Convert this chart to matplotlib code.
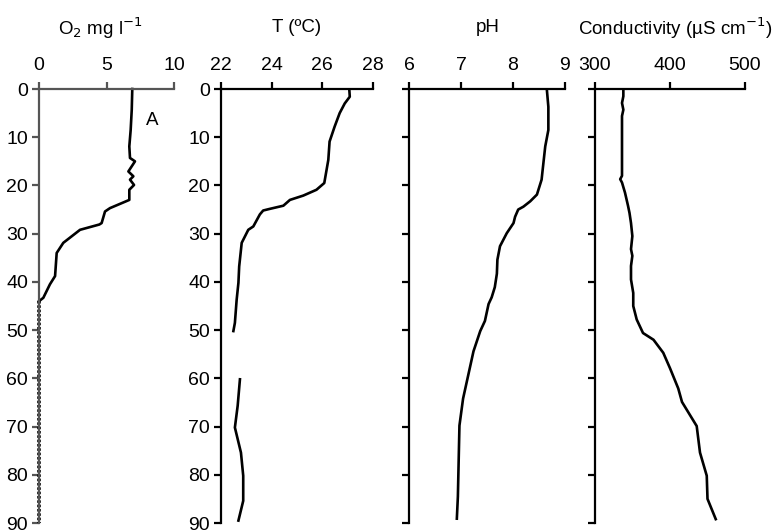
import matplotlib
matplotlib.use("Agg")
import matplotlib.pyplot as plt
import numpy as np

plt.rcParams['font.family'] = ['Liberation Sans', 'DejaVu Sans']

# ---- data (depth in m) ----
o2_depth = [0, 4.3, 8.5, 11.9, 14.3, 15.0, 17.1, 18.1, 18.8, 19.9, 20.9, 23.0,
            24.7, 25.4, 27.8, 28.1, 29.2, 31.9, 34.0, 38.8, 40.5, 43.3, 44.0]
o2_val = [6.91, 6.87, 6.79, 6.69, 6.74, 7.11, 6.62, 6.99, 6.74, 7.04, 6.69, 6.69,
          5.26, 4.89, 4.64, 4.47, 3.04, 1.80, 1.31, 1.19, 0.81, 0.32, 0.0]
o2_anox_depth = [44, 90]
o2_anox_val = [0, 0]

t_depth1 = [0, 1.6, 3.0, 5.0, 7.8, 10.9, 14.7, 16.8, 19.5, 20.9, 22.1, 23.0, 24.2,
            24.9, 25.2, 26.0, 28.5, 29.2, 31.9, 36.8, 40.2, 43.7, 48.5, 50.2]
t_val1 = [27.08, 27.1, 26.9, 26.7, 26.5, 26.3, 26.25, 26.18, 26.09, 25.78, 25.26, 24.73,
          24.47, 23.9, 23.67, 23.54, 23.28, 23.08, 22.82, 22.72, 22.69, 22.62, 22.55, 22.49]
t_depth2 = [60.2, 65.7, 70.2, 75.4, 80.2, 85.4, 89.5]
t_val2 = [22.75, 22.66, 22.55, 22.79, 22.88, 22.88, 22.69]

ph_depth = [0, 3.7, 8.5, 11.9, 16.8, 18.8, 21.9, 23.3, 24.4, 25.0, 26.5, 27.8, 29.9,
            32.6, 35.4, 38.3, 41.1, 43.2, 44.6, 48.1, 50.2, 54.4, 59.3, 64.2, 69.8,
            74.7, 79.6, 84.5, 89.1]
ph_val = [8.65, 8.68, 8.68, 8.62, 8.57, 8.55, 8.46, 8.33, 8.2, 8.10, 8.04, 8.01, 7.88,
          7.75, 7.70, 7.69, 7.65, 7.59, 7.53, 7.46, 7.37, 7.24, 7.14, 7.04, 6.97,
          6.96, 6.95, 6.94, 6.92]

cond_depth = [0, 1.5, 2.9, 4.3, 5.6, 18.0, 18.7, 19.4, 21.5, 24.2, 25.7, 27.8, 30.5,
              33.2, 34.6, 36.7, 39.5, 42.3, 45.0, 47.8, 50.6, 52.0, 54.7, 57.9, 62.1,
              64.9, 69.9, 75.4, 80.2, 85.0, 89.2]
cond_val = [337.8, 337.8, 336, 337.8, 336, 336, 333.6, 336, 340, 344, 346, 348, 349.8,
            348, 349.8, 348, 348, 351, 351, 355.6, 364, 378, 391, 400, 411,
            416, 435.6, 440, 449, 450, 461]

titles = ["O$_2$ mg l$^{-1}$", "T (ºC)", "pH", "Conductivity (µS cm$^{-1}$)"]
xlims = [(0, 10), (22, 28), (6, 9), (300, 500)]
xticks = [[0, 5, 10], [22, 24, 26, 28], [6, 7, 8, 9], [300, 400, 500]]
depth_ticks = list(range(0, 91, 10))

W, H = 775, 532
fig = plt.figure(figsize=(W / 100, H / 100), dpi=100)

y0_px, y90_px = 89, 523
panels_px = [(39, 174), (221, 372.5), (409, 565), (595, 745)]
title_x = [100, 297, 488, 675]

axes = []
for i, (l, r) in enumerate(panels_px):
    ax = fig.add_axes([l / W, 1 - y90_px / H, (r - l) / W, (y90_px - y0_px) / H])
    axes.append(ax)
    col = '#555555' if i == 0 else 'black'
    ax.set_xlim(*xlims[i])
    ax.set_ylim(90, 0)
    ax.spines['right'].set_visible(False)
    ax.spines['bottom'].set_visible(False)
    for s in ('top', 'left'):
        ax.spines[s].set_linewidth(1.6)
        ax.spines[s].set_color(col)
    ax.xaxis.tick_top()
    ax.set_xticks(xticks[i])
    ax.set_yticks(depth_ticks)
    ax.tick_params(axis='x', direction='out', length=5, width=1.6, color=col,
                   labelsize=14, pad=6)
    ax.tick_params(axis='y', direction='out', length=5, width=1.6, color=col,
                   labelsize=14, pad=3)
    if i >= 2:
        ax.set_yticklabels([])
    fig.text(title_x[i] / W, 1 - 28 / H, titles[i], ha='center', va='center',
             fontsize=13.5)

lw = 1.9
axes[0].plot(o2_val, o2_depth, color='black', lw=lw, clip_on=False)
axes[0].plot(o2_anox_val, o2_anox_depth, color='black', lw=2.6,
             linestyle=(0, (0.7, 0.5)), clip_on=False)
axes[0].text(7.9, 6.5, "A", fontsize=13.5, ha='left', va='center')

axes[1].plot(t_val1, t_depth1, color='black', lw=lw)
axes[1].plot(t_val2, t_depth2, color='black', lw=lw)
axes[2].plot(ph_val, ph_depth, color='black', lw=lw)
axes[3].plot(cond_val, cond_depth, color='black', lw=lw)

fig.savefig("out.png", dpi=100)
